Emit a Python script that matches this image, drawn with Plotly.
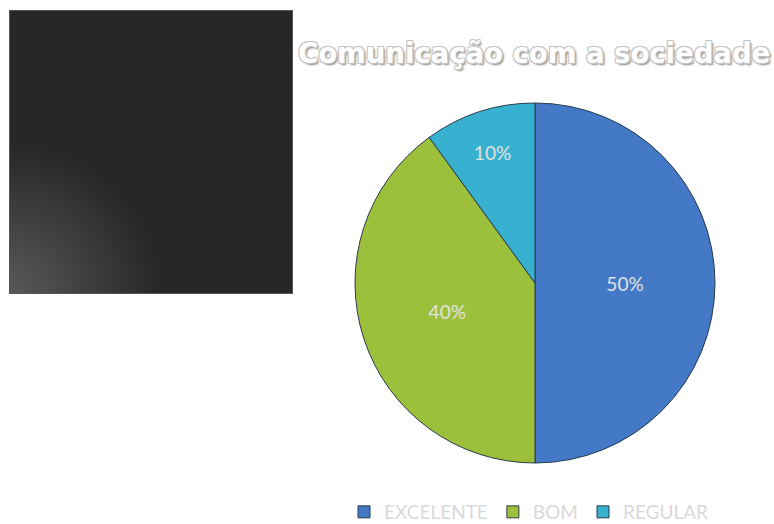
import plotly.graph_objects as go
import base64

categories = ["EXCELENTE", "BOM", "REGULAR"]
values = [50, 40, 10]
colors = ["#4479c8", "#9dc03c", "#38b1d0"]
title_text = "Comunicação com a sociedade"

W, H = 774, 524

svg = '''<svg xmlns="http://www.w3.org/2000/svg" width="284" height="284" viewBox="0 0 284 284">
<defs><radialGradient id="g" cx="0" cy="284" r="150" gradientUnits="userSpaceOnUse">
<stop offset="0" stop-color="#595959"/><stop offset="1" stop-color="#272727"/></radialGradient></defs>
<rect x="0" y="0" width="284" height="284" fill="url(#g)"/>
<rect x="0.5" y="0.5" width="283" height="283" fill="none" stroke="#555" stroke-width="1"/>
</svg>'''
src = "data:image/svg+xml;base64," + base64.b64encode(svg.encode()).decode()

fig = go.Figure(go.Pie(
    labels=categories,
    values=values,
    sort=False,
    direction="clockwise",
    rotation=0,
    marker=dict(colors=colors, line=dict(color="#2a3a4a", width=1)),
    textinfo="percent",
    texttemplate="%{percent:.0%}",
    textposition="inside",
    insidetextorientation="horizontal",
    textfont=dict(family="Lato, Open Sans, sans-serif", size=19, color="#e2e2e2"),
    domain=dict(x=[355 / W, 715 / W], y=[1 - 463 / H, 1 - 103 / H]),
    hoverinfo="label+percent",
))

fig.update_layout(
    width=W, height=H,
    margin=dict(l=0, r=0, t=0, b=0, autoexpand=False),
    paper_bgcolor="white",
    plot_bgcolor="white",
    images=[dict(source=src, xref="paper", yref="paper", x=9 / W, y=1 - 10 / H,
                 sizex=284 / W, sizey=284 / H, xanchor="left", yanchor="top",
                 sizing="stretch", layer="below")],
    annotations=[dict(text=f"<b>{title_text}</b>", xref="paper", yref="paper",
                      x=534 / W, y=1 - 53 / H, xanchor="center", yanchor="middle",
                      showarrow=False,
                      font=dict(family="DejaVu Sans, sans-serif", size=27.5, color="#ffffff",
                                shadow="-1px -1px 0 #c4c4c4, 1px -1px 0 #c4c4c4, -1px 1px 0 #c4c4c4, 1px 1px 0 #c4c4c4, 2px 2px 2px #8a8a8a"))],
    legend=dict(orientation="h", x=344 / W, y=1 - 512 / H, xanchor="left", yanchor="middle",
                font=dict(family="Lato, Open Sans, sans-serif", size=19, color="#d9d9d9"),
                bgcolor="rgba(0,0,0,0)"),
    showlegend=True,
)

fig.write_html("out.html", config={"displayModeBar": False},
               post_script="document.body.style.margin='0';document.body.style.overflow='hidden';")
